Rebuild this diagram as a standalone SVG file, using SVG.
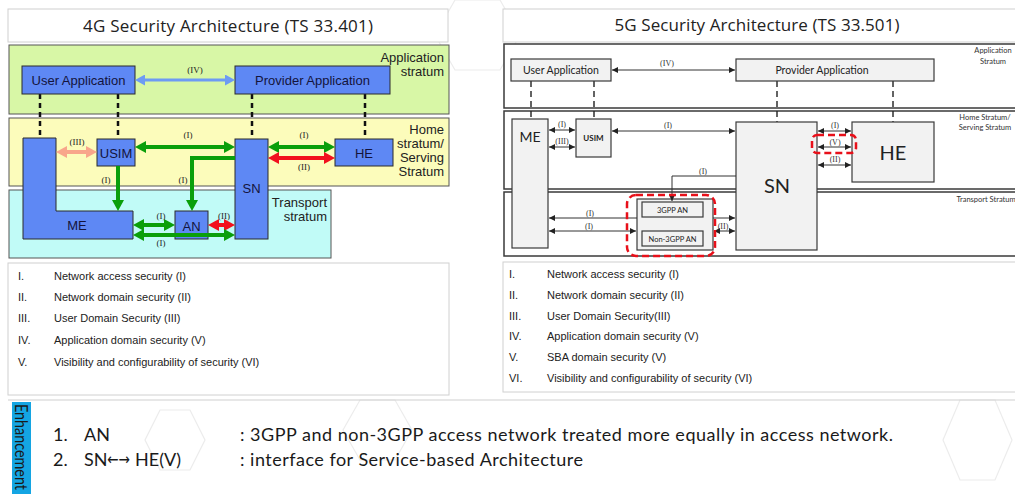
<svg xmlns="http://www.w3.org/2000/svg" width="1015" height="494" viewBox="0 0 1015 494">
  <defs>
    <style>
      .title { font-family: "Open Sans", "Liberation Sans", sans-serif; font-size: 17px; fill: #222; text-anchor: middle; }
      .frame { fill: #fff; stroke: #d0d0d0; stroke-width: 1; }
      .stratum { stroke: #555; stroke-width: 1; }
      .bnode { fill: #5e88f4; stroke: #2b2b2b; stroke-width: 1; }
      .btxt { font-family: "Liberation Sans", Arial, sans-serif; font-size: 13px; fill: #14143c; text-anchor: middle; }
      .strl { font-family: "Liberation Sans", Arial, sans-serif; font-size: 13px; fill: #222; text-anchor: end; }
      .lbl { font-family: "Liberation Serif", serif; font-size: 9px; fill: #222; text-anchor: middle; }
      .dash4 { stroke: #111; stroke-width: 2.5; stroke-dasharray: 5 4; fill: none; }
      .green { stroke: #0a9f0a; stroke-width: 4; fill: none; }
      .red { stroke: #f2101e; stroke-width: 4; fill: none; }
      .salmon { stroke: #f8a68b; stroke-width: 4; fill: none; }
      .lblue { stroke: #6d9bf4; stroke-width: 3; fill: none; }
      .gnode { fill: #f2f2f2; stroke: #3a3a3a; stroke-width: 1.2; }
      .gtxt { font-family: Lato, "Liberation Sans", sans-serif; fill: #222; text-anchor: middle; }
      .thin { stroke: #333; stroke-width: 1; fill: none; }
      .dash5 { stroke: #222; stroke-width: 1.4; stroke-dasharray: 6 4; fill: none; }
      .rdash { stroke: #e8101a; stroke-width: 2.5; stroke-dasharray: 7 4; fill: none; }
      .slbl { font-family: Lato, "Liberation Sans", sans-serif; font-size: 7.5px; fill: #333; text-anchor: middle; }
      .tlbl { font-family: "Liberation Serif", serif; font-size: 8px; fill: #333; text-anchor: middle; }
      .leg { font-family: "Liberation Sans", Arial, sans-serif; font-size: 11px; fill: #222; }
      .enh { font-family: Lato, "Liberation Sans", sans-serif; font-size: 18px; fill: #1a1a1a; }
      .hex { fill: none; stroke: #ececec; stroke-width: 1.2; }
    </style>
    <marker id="mg" markerWidth="11" markerHeight="12" refX="5" refY="6" orient="auto-start-reverse" markerUnits="userSpaceOnUse"><path d="M0,0 L11,6 L0,12 z" fill="#0a9f0a"/></marker>
    <marker id="mr" markerWidth="11" markerHeight="12" refX="5" refY="6" orient="auto-start-reverse" markerUnits="userSpaceOnUse"><path d="M0,0 L11,6 L0,12 z" fill="#f2101e"/></marker>
    <marker id="ms" markerWidth="11" markerHeight="12" refX="5" refY="6" orient="auto-start-reverse" markerUnits="userSpaceOnUse"><path d="M0,0 L11,6 L0,12 z" fill="#f8a68b"/></marker>
    <marker id="mb" markerWidth="10" markerHeight="11" refX="4" refY="5.5" orient="auto-start-reverse" markerUnits="userSpaceOnUse"><path d="M0,0 L10,5.5 L0,11 z" fill="#6d9bf4"/></marker>
    <marker id="mk" markerWidth="6" markerHeight="6" refX="6" refY="3" orient="auto-start-reverse" markerUnits="userSpaceOnUse"><path d="M0,0 L6,3 L0,6 z" fill="#222"/></marker>
  </defs>

  <!-- faint hexagon backdrop -->
  <g id="backdrop">
    <polygon class="hex" points="455,0 500,0 520,35 500,70 455,70 435,35"/>
    <polygon class="hex" points="360,400 395,400 412,430 395,460 360,460 343,430"/>
    <polygon class="hex" points="960,400 995,400 1012,440 995,480 960,480 943,440"/>
    <polygon class="hex" points="880,236 905,236 918,256 880,256 867,256"/>
    <polygon class="hex" points="160,410 190,410 205,440 190,470 160,470 145,440"/>
  </g>

  <!-- ===== 4G architecture ===== -->
  <g id="title-4g">
    <rect class="frame" x="8" y="9" width="440" height="33"/>
    <text class="title" x="228" y="32" textLength="290">4G Security Architecture (TS 33.401)</text>
  </g>

  <g id="strata-4g">
    <rect class="stratum" x="9" y="45" width="440" height="69" fill="#d8f7a6"/>
    <rect class="stratum" x="9" y="118" width="440" height="68" fill="#fcfcbb"/>
    <rect class="stratum" x="9" y="190" width="322" height="68" fill="#c1fbf7"/>
    <text class="strl" x="444" y="62">Application</text>
    <text class="strl" x="444" y="76">stratum</text>
    <text class="strl" x="444" y="134">Home</text>
    <text class="strl" x="444" y="148">stratum/</text>
    <text class="strl" x="444" y="162">Serving</text>
    <text class="strl" x="444" y="176">Stratum</text>
    <text class="strl" x="327" y="207">Transport</text>
    <text class="strl" x="327" y="221">stratum</text>
  </g>

  <g id="links-4g">
    <line class="dash4" x1="40" y1="94" x2="40" y2="138"/>
    <line class="dash4" x1="118" y1="94" x2="118" y2="139"/>
    <line class="dash4" x1="252" y1="94" x2="252" y2="139"/>
    <line class="dash4" x1="365" y1="94" x2="365" y2="139"/>
  </g>

  <g id="node-4g-ua"><rect class="bnode" x="22" y="66" width="113" height="28"/><text class="btxt" x="78.5" y="85">User Application</text></g>
  <g id="node-4g-pa"><rect class="bnode" x="235" y="66" width="155" height="28"/><text class="btxt" x="312.5" y="85">Provider Application</text></g>
  <g id="node-4g-me"><path class="bnode" d="M23,138 H56 V211 H133 V239 H23 Z"/><text class="btxt" x="77" y="230" font-size="14">ME</text></g>
  <g id="node-4g-usim"><rect class="bnode" x="97" y="139" width="38" height="27"/><text class="btxt" x="116" y="158" font-size="14">USIM</text></g>
  <g id="node-4g-sn"><rect class="bnode" x="235" y="139" width="33" height="100"/><text class="btxt" x="251.5" y="193" font-size="14">SN</text></g>
  <g id="node-4g-he"><rect class="bnode" x="335" y="139" width="58" height="27"/><text class="btxt" x="364" y="158" font-size="14">HE</text></g>
  <g id="node-4g-an"><rect class="bnode" x="175" y="211" width="33" height="28"/><text class="btxt" x="191.5" y="231" font-size="14">AN</text></g>

  <g id="connectors-4g">
    <line class="lblue" x1="141" y1="80" x2="229" y2="80" marker-start="url(#mb)" marker-end="url(#mb)"/>
    <line class="salmon" x1="62" y1="152" x2="91" y2="152" marker-start="url(#ms)" marker-end="url(#ms)"/>
    <line class="green" x1="141" y1="147" x2="229" y2="147" marker-start="url(#mg)" marker-end="url(#mg)"/>
    <line class="green" x1="274" y1="147" x2="329" y2="147" marker-start="url(#mg)" marker-end="url(#mg)"/>
    <line class="red" x1="274" y1="158" x2="329" y2="158" marker-start="url(#mr)" marker-end="url(#mr)"/>
    <line class="green" x1="118" y1="166" x2="118" y2="205" marker-end="url(#mg)"/>
    <polyline class="green" points="235,158 192,158 192,205" marker-end="url(#mg)"/>
    <line class="green" x1="139" y1="225" x2="169" y2="225" marker-start="url(#mg)" marker-end="url(#mg)"/>
    <line class="red" x1="214" y1="225" x2="229" y2="225" marker-start="url(#mr)" marker-end="url(#mr)"/>
    <line class="green" x1="139" y1="235" x2="229" y2="235" marker-start="url(#mg)" marker-end="url(#mg)"/>
    <text class="lbl" x="195" y="73">(IV)</text>
    <text class="lbl" x="77" y="145">(III)</text>
    <text class="lbl" x="188" y="138">(I)</text>
    <text class="lbl" x="304" y="138">(I)</text>
    <text class="lbl" x="304" y="170">(II)</text>
    <text class="lbl" x="106" y="183">(I)</text>
    <text class="lbl" x="183" y="183">(I)</text>
    <text class="lbl" x="161" y="219">(I)</text>
    <text class="lbl" x="224" y="219">(II)</text>
    <text class="lbl" x="161" y="246">(I)</text>
  </g>

  <g id="legend-4g">
    <rect class="frame" x="8" y="263" width="441" height="132"/>
    <text class="leg" x="18" y="280">I.</text><text class="leg" x="54" y="280">Network access security (I)</text>
    <text class="leg" x="18" y="301">II.</text><text class="leg" x="54" y="301">Network domain security (II)</text>
    <text class="leg" x="18" y="322">III.</text><text class="leg" x="54" y="322">User Domain Security (III)</text>
    <text class="leg" x="18" y="344">IV.</text><text class="leg" x="54" y="344">Application domain security (V)</text>
    <text class="leg" x="18" y="366">V.</text><text class="leg" x="54" y="366">Visibility and configurability of security (VI)</text>
  </g>

  <!-- ===== 5G architecture ===== -->
  <g id="title-5g">
    <rect class="frame" x="503" y="9" width="520" height="33"/>
    <text class="title" x="757" y="31" textLength="285">5G Security Architecture (TS 33.501)</text>
  </g>

  <g id="strata-5g">
    <rect x="504" y="44" width="520" height="64" fill="#fff" stroke="#3a3a3a" stroke-width="1.5"/>
    <rect x="504" y="111" width="520" height="78" fill="#fff" stroke="#3a3a3a" stroke-width="1.5"/>
    <rect x="504" y="192" width="520" height="64" fill="#fff" stroke="#3a3a3a" stroke-width="1.5"/>
    <text class="slbl" x="993" y="53">Application</text>
    <text class="slbl" x="993" y="64">Stratum</text>
    <text class="slbl" x="985" y="120">Home Stratum/</text>
    <text class="slbl" x="985" y="130">Serving Stratum</text>
    <text class="slbl" x="986" y="202">Transport Stratum</text>
  </g>

  <g id="links-5g">
    <line class="dash5" x1="531" y1="81" x2="531" y2="119"/>
    <line class="dash5" x1="594" y1="81" x2="594" y2="119"/>
    <line class="dash5" x1="777" y1="81" x2="777" y2="122" stroke-width="2"/>
    <line class="dash5" x1="893" y1="81" x2="893" y2="122" stroke-width="2"/>
  </g>

  <g id="node-5g-ua"><rect class="gnode" x="511" y="59" width="100" height="22"/><text class="gtxt" x="561" y="74" font-size="10.5">User Application</text></g>
  <g id="node-5g-pa"><rect class="gnode" x="736" y="59" width="198" height="22"/><text class="gtxt" x="822" y="74" font-size="10.5">Provider Application</text></g>
  <g id="node-5g-me"><rect class="gnode" x="512" y="119" width="36" height="129"/><text class="gtxt" x="530" y="142" font-size="14">ME</text></g>
  <g id="node-5g-usim"><rect class="gnode" x="576" y="119" width="35" height="38"/><text class="gtxt" x="593.5" y="141" font-size="8" font-weight="bold">USIM</text></g>
  <g id="node-5g-sn"><rect class="gnode" x="736" y="122" width="81" height="128"/><text class="gtxt" x="777" y="193" font-size="20">SN</text></g>
  <g id="node-5g-he"><rect class="gnode" x="852" y="122" width="82" height="60"/><text class="gtxt" x="893" y="160" font-size="20">HE</text></g>
  <g id="node-5g-an">
    <rect class="gnode" x="637" y="199" width="76" height="51"/>
    <rect class="gnode" x="642" y="202" width="61" height="15"/>
    <text class="gtxt" x="672.5" y="212.5" font-size="7.5">3GPP AN</text>
    <rect class="gnode" x="642" y="231" width="61" height="15"/>
    <text class="gtxt" x="672.5" y="241.5" font-size="7.5">Non-3GPP AN</text>
  </g>

  <g id="connectors-5g">
    <line class="thin" x1="612" y1="70" x2="735" y2="70" marker-start="url(#mk)" marker-end="url(#mk)"/>
    <line class="thin" x1="549" y1="130" x2="575" y2="130" marker-start="url(#mk)" marker-end="url(#mk)"/>
    <line class="thin" x1="549" y1="147" x2="575" y2="147" marker-start="url(#mk)" marker-end="url(#mk)"/>
    <line class="thin" x1="612" y1="131" x2="735" y2="131" marker-start="url(#mk)" marker-end="url(#mk)"/>
    <line class="thin" x1="818" y1="131" x2="851" y2="131" marker-start="url(#mk)" marker-end="url(#mk)"/>
    <line class="thin" x1="818" y1="147" x2="851" y2="147" marker-start="url(#mk)" marker-end="url(#mk)"/>
    <line class="thin" x1="818" y1="165" x2="851" y2="165" marker-start="url(#mk)" marker-end="url(#mk)"/>
    <polyline class="thin" points="736,176 672,176 672,201" stroke="#555" marker-end="url(#mk)"/>
    <line class="thin" x1="549" y1="218" x2="637" y2="218" marker-start="url(#mk)"/>
    <line class="thin" x1="713" y1="218" x2="735" y2="218" marker-end="url(#mk)"/>
    <line class="thin" x1="549" y1="231" x2="636" y2="231" marker-start="url(#mk)" marker-end="url(#mk)"/>
    <line class="thin" x1="714" y1="231" x2="735" y2="231" marker-start="url(#mk)" marker-end="url(#mk)"/>
    <text class="tlbl" x="667" y="66">(IV)</text>
    <text class="tlbl" x="562" y="127">(I)</text>
    <text class="tlbl" x="562" y="144">(III)</text>
    <text class="tlbl" x="668" y="128">(I)</text>
    <text class="tlbl" x="835" y="128">(I)</text>
    <text class="tlbl" x="835" y="145">(V)</text>
    <text class="tlbl" x="835" y="162">(II)</text>
    <text class="tlbl" x="703" y="174">(I)</text>
    <text class="tlbl" x="590" y="216">(I)</text>
    <text class="tlbl" x="589" y="229">(I)</text>
    <text class="tlbl" x="723" y="229">(II)</text>
    <rect class="rdash" x="812" y="135" width="44" height="18" rx="5"/>
    <rect class="rdash" x="627" y="195" width="88" height="61" rx="9"/>
  </g>

  <g id="legend-5g">
    <rect class="frame" x="503" y="262" width="520" height="130"/>
    <text class="leg" x="509" y="278">I.</text><text class="leg" x="547" y="278">Network access security (I)</text>
    <text class="leg" x="509" y="299">II.</text><text class="leg" x="547" y="299">Network domain security (II)</text>
    <text class="leg" x="509" y="320">III.</text><text class="leg" x="547" y="320">User Domain Security(III)</text>
    <text class="leg" x="509" y="340">IV.</text><text class="leg" x="547" y="340">Application domain security (V)</text>
    <text class="leg" x="509" y="361">V.</text><text class="leg" x="547" y="361">SBA domain security (V)</text>
    <text class="leg" x="509" y="382">VI.</text><text class="leg" x="547" y="382">Visibility and configurability of security (VI)</text>
  </g>

  <!-- ===== enhancements ===== -->
  <g id="enhancements">
    <line x1="8" y1="400" x2="1015" y2="400" stroke="#cfcfcf" stroke-width="1"/>
    <rect x="12" y="402" width="19" height="92" fill="#14a5e3"/>
    <text class="enh" font-size="13.5" transform="translate(15,404) rotate(90)" textLength="86" lengthAdjust="spacingAndGlyphs">Enhancement</text>
    <text class="enh" x="53" y="441">1.</text>
    <text class="enh" x="84" y="441">AN</text>
    <text class="enh" x="240" y="441" textLength="653">: 3GPP and non-3GPP access network treated more equally in access network.</text>
    <text class="enh" x="53" y="466">2.</text>
    <text class="enh" x="84" y="466">SN</text>
    <text x="107" y="465" font-family="'DejaVu Sans', sans-serif" font-size="16" fill="#1a1a1a" textLength="23" lengthAdjust="spacingAndGlyphs">←→</text>
    <text class="enh" x="135" y="466">HE(V)</text>
    <text class="enh" x="240" y="466" textLength="343">: interface for Service-based Architecture</text>
  </g>
</svg>
